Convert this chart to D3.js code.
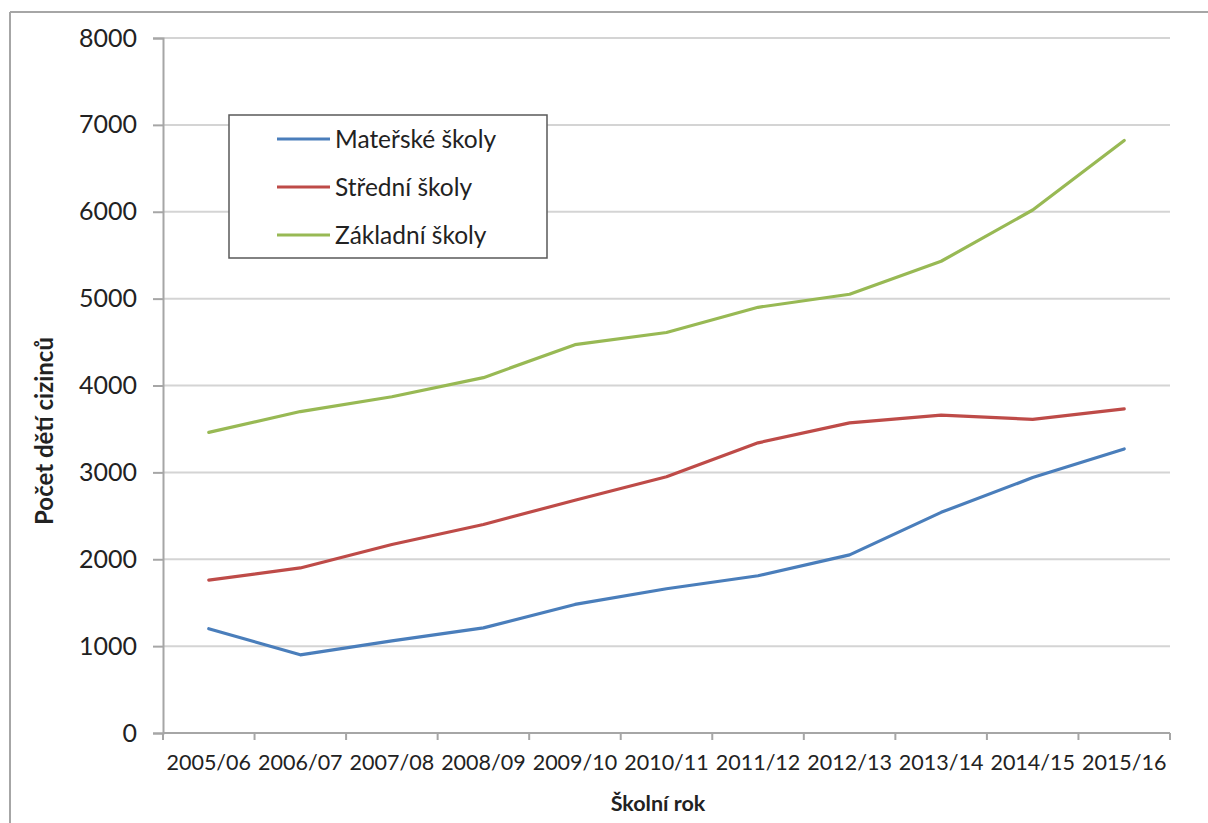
<!DOCTYPE html>
<html>
<head>
<meta charset="utf-8">
<script src="https://cdn.jsdelivr.net/npm/d3@7"></script>
<style>
  html, body { margin: 0; padding: 0; background: #fff; }
  svg { display: block; }
  text { font-family: Lato, "Open Sans", sans-serif; fill: #222; }
</style>
</head>
<body>
<svg id="chart" width="1208" height="823"></svg>
<script>
// School years on the x axis
const years = ["2005/06", "2006/07", "2007/08", "2008/09", "2009/10", "2010/11",
               "2011/12", "2012/13", "2013/14", "2014/15", "2015/16"];

// Number of foreign children per school type
const materske = [1200, 900, 1060, 1210, 1480, 1660, 1810, 2050, 2540, 2940, 3270];
const stredni  = [1760, 1900, 2170, 2400, 2680, 2950, 3340, 3570, 3660, 3610, 3730];
const zakladni = [3460, 3700, 3870, 4090, 4470, 4610, 4900, 5050, 5430, 6020, 6820];

const seriesNames  = ["Mateřské školy", "Střední školy", "Základní školy"];
const seriesColors = ["#4A7EBB", "#BE4B48", "#98B954"];
const yTicks = [0, 1000, 2000, 3000, 4000, 5000, 6000, 7000, 8000];

const series = [materske, stredni, zakladni].map((values, i) => ({
  name: seriesNames[i], color: seriesColors[i], values
}));

const svg = d3.select("#chart");
const plot = { left: 163, right: 1170, top: 38, bottom: 733 };

// Outer frame (top and left edges)
svg.append("line").attr("x1", 10).attr("x2", 1208).attr("y1", 12).attr("y2", 12)
  .attr("stroke", "#a6a6a6").attr("stroke-width", 2);
svg.append("line").attr("x1", 10).attr("x2", 10).attr("y1", 12).attr("y2", 823)
  .attr("stroke", "#a6a6a6").attr("stroke-width", 2);

const x = d3.scaleBand().domain(years).range([plot.left, plot.right]).padding(0);
const y = d3.scaleLinear().domain([0, 8000]).range([plot.bottom, plot.top]);

// Horizontal gridlines
svg.append("g").selectAll("line").data(yTicks.filter(d => d > 0)).join("line")
  .attr("x1", plot.left).attr("x2", plot.right)
  .attr("y1", d => y(d)).attr("y2", d => y(d))
  .attr("stroke", "#d4d4d4").attr("stroke-width", 2);

// Y axis
const yAxis = svg.append("g").attr("transform", `translate(${plot.left},0)`)
  .call(d3.axisLeft(y).tickValues(yTicks).tickSize(10).tickPadding(16).tickFormat(d3.format("d")));
yAxis.select(".domain").attr("stroke", "#a6a6a6").attr("stroke-width", 2);
yAxis.selectAll(".tick line").attr("stroke", "#a6a6a6").attr("stroke-width", 2);
yAxis.selectAll(".tick text").style("font-size", "25px").attr("fill", "#222");

// X axis: ticks on category boundaries
const xAxisG = svg.append("g").attr("transform", `translate(0,${plot.bottom})`);
xAxisG.append("line").attr("x1", plot.left).attr("x2", plot.right)
  .attr("stroke", "#a6a6a6").attr("stroke-width", 2);
const boundaries = years.map(d => x(d)).concat([plot.right]);
xAxisG.selectAll("line.tk").data(boundaries).join("line").attr("class", "tk")
  .attr("x1", d => d).attr("x2", d => d).attr("y1", 0).attr("y2", 7)
  .attr("stroke", "#a6a6a6").attr("stroke-width", 2);
xAxisG.selectAll("text").data(years).join("text")
  .attr("x", d => x(d) + x.bandwidth() / 2).attr("y", 37)
  .attr("text-anchor", "middle").style("font-size", "21.5px").text(d => d);

// Axis titles
svg.append("text").attr("x", 658).attr("y", 811)
  .attr("text-anchor", "middle").style("font-size", "21.5px").style("font-weight", "bold")
  .text("Školní rok");
svg.append("text").attr("transform", "translate(53,431) rotate(-90)")
  .attr("text-anchor", "middle").style("font-size", "24px").style("font-weight", "bold")
  .text("Počet dětí cizinců");

// Series lines
const line = d3.line()
  .x((d, i) => x(years[i]) + x.bandwidth() / 2)
  .y(d => y(d));
svg.append("g").selectAll("path").data(series).join("path")
  .attr("d", d => line(d.values))
  .attr("fill", "none").attr("stroke", d => d.color)
  .attr("stroke-width", 3.2).attr("stroke-linejoin", "round").attr("stroke-linecap", "round");

// Legend
const legend = svg.append("g");
legend.append("rect").attr("x", 229).attr("y", 115).attr("width", 318).attr("height", 143)
  .attr("fill", "#fff").attr("stroke", "#595959").attr("stroke-width", 1.5);
const rows = legend.selectAll("g.row").data(series).join("g").attr("class", "row")
  .attr("transform", (d, i) => `translate(0,${139 + i * 48})`);
rows.append("line").attr("x1", 277).attr("x2", 330)
  .attr("stroke", d => d.color).attr("stroke-width", 3.2);
rows.append("text").attr("x", 335).attr("dy", "0.35em").style("font-size", "24.5px")
  .text(d => d.name);
</script>
</body>
</html>
